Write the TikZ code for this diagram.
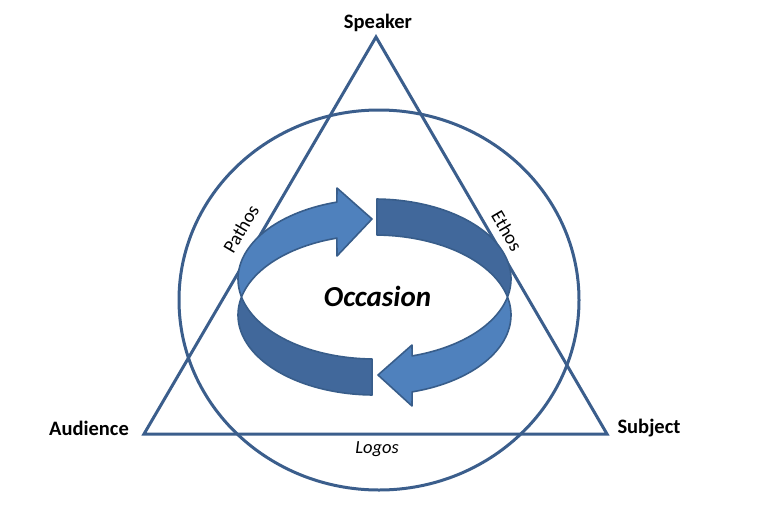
\documentclass[tikz,border=0pt]{standalone}
\usepackage{fontspec}
\setmainfont{Carlito}
\definecolor{linecol}{HTML}{3B5E8C}
\definecolor{lightfill}{HTML}{4F81BD}
\definecolor{darkfill}{HTML}{41689B}
\definecolor{edgecol}{HTML}{385D8A}
\tikzset{
  frame/.style={draw=linecol, line width=3pt},
  vlabel/.style={font=\fontsize{20.5}{24}\selectfont\bfseries, inner sep=0pt, anchor=base},
  slabel/.style={font=\fontsize{18.5}{22}\selectfont\itshape, inner sep=0pt},
  sidelabel/.style={font=\fontsize{19}{22}\selectfont, inner sep=0pt},
  lightarrow/.style={fill=lightfill, draw=edgecol, line width=1.6pt, line join=round},
  darkarrow/.style={fill=darkfill, draw=edgecol, line width=1.6pt, line join=round},
}
\def\cx{374.5}
\def\ra{136.5}
\def\rb{80}
\def\ty{279}
\def\by{315}
\begin{document}
\begin{tikzpicture}[x=1pt, y=-1pt]
\useasboundingbox (0,0) rectangle (762,512);
% circle
\draw[frame] (379,300) ellipse [x radius=200pt, y radius=190pt];
% triangle
\coordinate (apex) at (376,37);
\coordinate (bl) at (144,434);
\coordinate (br) at (607,434);
\draw[frame, line join=miter] (apex) -- (bl) -- (br) -- cycle;
% ring: back parts
\path[lightarrow] plot[domain=167:254, samples=40] ({\cx+\ra*cos(\x)},{\ty+\rb*sin(\x)})
  -- (337,188) -- (372,219) -- (337,256)
  -- plot[domain=254:193, samples=40] ({\cx+\ra*cos(\x)},{\by+\rb*sin(\x)}) -- cycle;
\path[darkarrow] plot[domain=271:373, samples=50] ({\cx+\ra*cos(\x)},{\ty+\rb*sin(\x)})
  -- plot[domain=347:271, samples=40] ({\cx+\ra*cos(\x)},{\by+\rb*sin(\x)}) -- cycle;
% ring: front parts
\path[darkarrow] plot[domain=91:167, samples=40] ({\cx+\ra*cos(\x)},{\ty+\rb*sin(\x)})
  -- plot[domain=193:91, samples=50] ({\cx+\ra*cos(\x)},{\by+\rb*sin(\x)}) -- cycle;
\path[lightarrow] plot[domain=13:74, samples=40] ({\cx+\ra*cos(\x)},{\ty+\rb*sin(\x)})
  -- (412,345) -- (378,375) -- (412,406)
  -- plot[domain=74:-13, samples=40] ({\cx+\ra*cos(\x)},{\by+\rb*sin(\x)}) -- cycle;
% labels
\node[vlabel] (speaker) at (378,28) {Speaker};
\node[vlabel] (audience) at (89,435) {Audience};
\node[vlabel] (subject) at (649,433) {Subject};
\node[slabel, anchor=base] (logos) at (377,453) {Logos};
\node[sidelabel, rotate=59.7] (pathos) at (241,229) {Pathos};
\node[sidelabel, rotate=-59.7] (ethos) at (507,231) {Ethos};
\node[font=\fontsize{29}{34}\selectfont\bfseries\itshape, inner sep=0pt, anchor=base] (occasion) at (377.5,306) {Occasion};
\end{tikzpicture}
\end{document}
